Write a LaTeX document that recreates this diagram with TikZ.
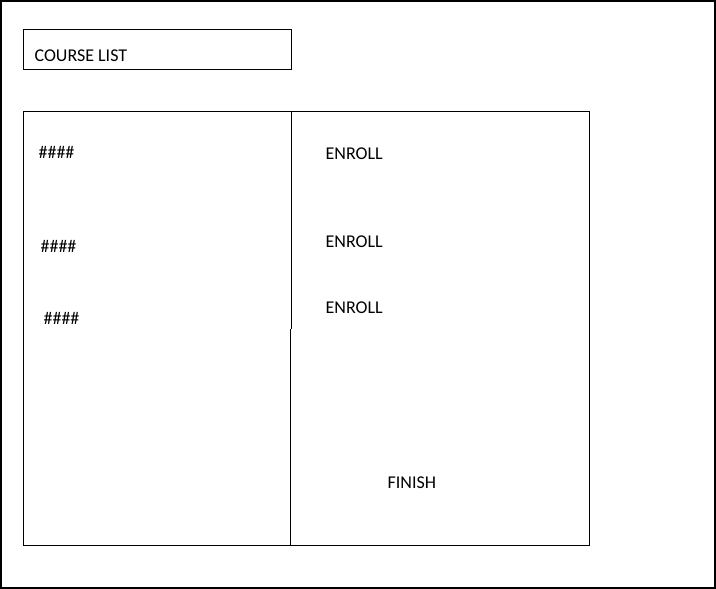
\documentclass[tikz,border=0pt]{standalone}
\usepackage{fontspec}
\setmainfont{Carlito}
\begin{document}
\begin{tikzpicture}[x=1pt,y=-1pt,line width=1.2pt,
  lbl/.style={anchor=base west,inner sep=0pt,font=\fontsize{18}{21}\selectfont}]
\useasboundingbox (0,0) rectangle (716,589);
\draw[line width=1.6pt] (0.8,0.8) rectangle (715.2,588.2);
\node[draw,line width=1.2pt,minimum width=268pt,minimum height=40pt,inner sep=0pt,anchor=north west] (title) at (23,29) {};
\node[lbl] (tt) at (34,61) {COURSE LIST};
\node[draw,line width=1.2pt,minimum width=566pt,minimum height=434pt,inner sep=0pt,anchor=north west] (main) at (23,111) {};
\coordinate (d1) at (291.5,111);
\coordinate (d2) at (291.5,329);
\coordinate (d3) at (290.5,329);
\coordinate (d4) at (290.5,545);
\draw (d1) -- (d2);
\draw (d3) -- (d4);
\node[lbl] (h1) at (38,158) {\#\#\#\#};
\node[lbl] (h2) at (40,252) {\#\#\#\#};
\node[lbl] (h3) at (43,324) {\#\#\#\#};
\node[lbl] (e1) at (325,159) {ENROLL};
\node[lbl] (e2) at (325,247) {ENROLL};
\node[lbl] (e3) at (325,313) {ENROLL};
\node[lbl] (f) at (387,488) {FINISH};
\end{tikzpicture}
\end{document}
